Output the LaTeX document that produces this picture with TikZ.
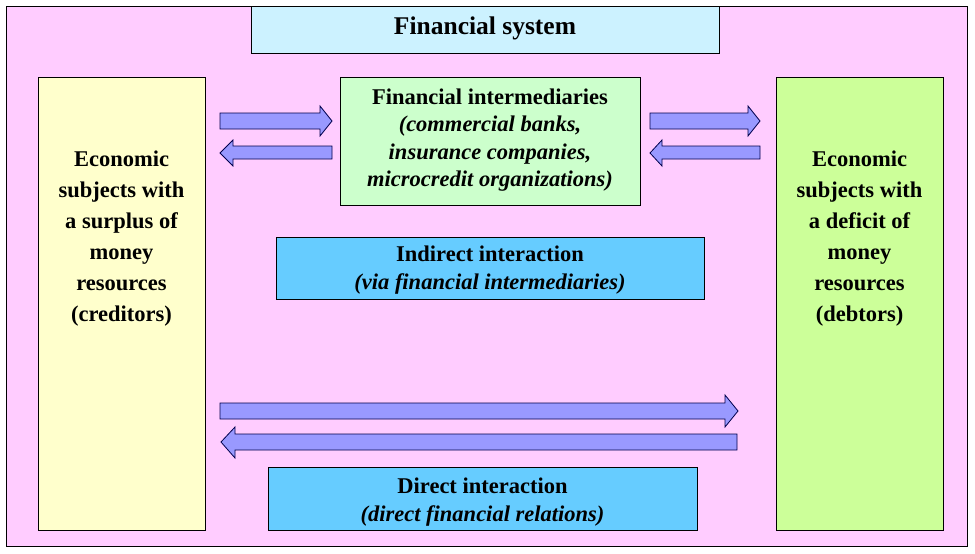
\documentclass[tikz,border=0pt]{standalone}
\usepackage{fontspec}
\setmainfont{Liberation Serif}
\begin{document}
\begin{tikzpicture}[x=1pt,y=-1pt,
  box/.style={draw=black, line width=0.9pt, inner sep=0pt, anchor=north west},
  lbl/.style={align=center, inner sep=0pt},
  arr/.style={draw=black!70!blue, line width=0.8pt, fill=arrowc, line join=miter}]
\definecolor{pinkbg}{HTML}{FFCCFF}
\definecolor{yellowc}{HTML}{FFFFCC}
\definecolor{greenc}{HTML}{CCFF99}
\definecolor{lgreen}{HTML}{CCFFCC}
\definecolor{lcyan}{HTML}{CCF2FF}
\definecolor{bluec}{HTML}{66CCFF}
\definecolor{arrowc}{HTML}{9999FF}
\useasboundingbox (0,0) rectangle (975,554);
\fill[white] (0,0) rectangle (975,554);
\draw[fill=pinkbg, line width=0.8pt] (6,6) rectangle (967,546);
\node[box, fill=lcyan, minimum width=468pt, minimum height=47pt] (fs) at (251,6) {};
\node[lbl, font=\fontsize{25.5}{30}\selectfont\bfseries] (fst) at (485,28.5) {Financial system};
\node[box, fill=yellowc, minimum width=167pt, minimum height=453pt] (cred) at (38,77) {};
\node[lbl, font=\fontsize{22.5}{31}\selectfont\bfseries] (credt) at (121.5,239) {Economic\\subjects with\\a surplus of\\money\\resources\\(creditors)};
\node[box, fill=greenc, minimum width=167pt, minimum height=453pt] (debt) at (776,77) {};
\node[lbl, font=\fontsize{22.5}{31}\selectfont\bfseries] (debtt) at (859.5,239) {Economic\\subjects with\\a deficit of\\money\\resources\\(debtors)};
\node[box, fill=lgreen, minimum width=300pt, minimum height=128pt] (fi) at (340,77) {};
\node[lbl, font=\fontsize{22.5}{27.5}\selectfont\bfseries] (fit) at (490,140) {Financial intermediaries\\\itshape (commercial banks,\\\itshape insurance companies,\\\itshape microcredit organizations)};
\node[box, fill=bluec, minimum width=428pt, minimum height=62pt] (ind) at (276,237) {};
\node[lbl, font=\fontsize{22.5}{28}\selectfont\bfseries] (indt) at (490,270) {Indirect interaction\\\itshape (via financial intermediaries)};
\node[box, fill=bluec, minimum width=429pt, minimum height=63pt] (dir) at (268,467) {};
\node[lbl, font=\fontsize{22.5}{28}\selectfont\bfseries] (dirt) at (482.5,502) {Direct interaction\\\itshape (direct financial relations)};
% upper left arrows
\draw[arr] (220,113) -- (320,113) -- (320,106) -- (332,121) -- (320,136) -- (320,129) -- (220,129) -- cycle;
\draw[arr] (332,146) -- (233,146) -- (233,140) -- (220,153) -- (233,166) -- (233,159) -- (332,159) -- cycle;
% upper right arrows
\draw[arr] (650,113) -- (748,113) -- (748,106) -- (760,121) -- (748,136) -- (748,129) -- (650,129) -- cycle;
\draw[arr] (760,146) -- (662,146) -- (662,140) -- (650,153) -- (662,166) -- (662,159) -- (760,159) -- cycle;
% bottom arrows
\draw[arr] (220,403) -- (725,403) -- (725,395) -- (738,411) -- (725,427) -- (725,419) -- (220,419) -- cycle;
\draw[arr] (737,434) -- (235,434) -- (235,427) -- (221,442) -- (235,458) -- (235,450) -- (737,450) -- cycle;
\end{tikzpicture}
\end{document}
